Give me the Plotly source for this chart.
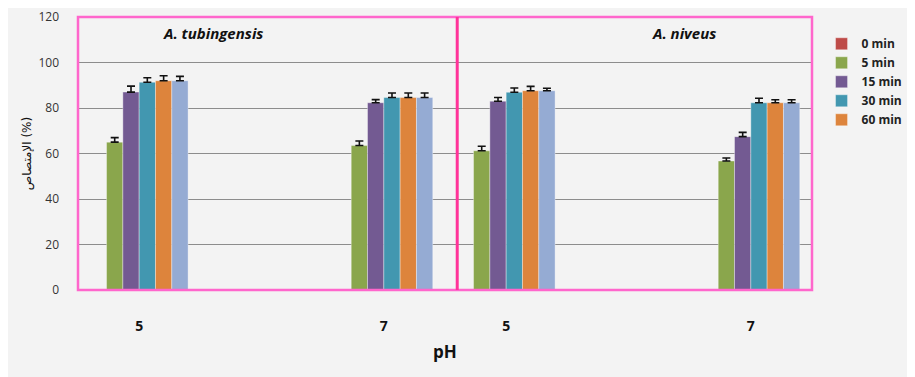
import plotly.graph_objects as go

species = ["A. tubingensis", "A. tubingensis", "A. niveus", "A. niveus"]
ph_values = [5, 7, 5, 7]
series_names = ["0 min", "5 min", "15 min", "30 min", "60 min", "120 min"]
series_colors = ["#BE4B48", "#8AA64C", "#735A92", "#4297B0", "#DD843C", "#95ABD3"]

values = {
    "0 min":   [0, 0, 0, 0],
    "5 min":   [65.0, 63.5, 61.2, 56.7],
    "15 min":  [87.0, 82.3, 83.0, 67.4],
    "30 min":  [91.3, 84.6, 86.9, 82.3],
    "60 min":  [92.0, 84.6, 87.6, 82.3],
    "120 min": [92.0, 84.6, 87.6, 82.3],
}
errors = {
    "0 min":   [0, 0, 0, 0],
    "5 min":   [2.0, 2.0, 2.0, 1.3],
    "15 min":  [2.6, 1.4, 1.6, 1.9],
    "30 min":  [2.0, 2.0, 1.9, 2.0],
    "60 min":  [2.2, 2.0, 1.9, 1.3],
    "120 min": [1.9, 2.0, 1.1, 1.3],
}

species_order = ["A. tubingensis", "A. niveus"]
# slot position: 3 pH slots (5, 6, 7) per species, pH 6 left empty
xpos = [species_order.index(s) * 3 + (p - 5) for s, p in zip(species, ph_values)]
xtext = [str(p) for p in ph_values]

fig = go.Figure()
for name, color in zip(series_names, series_colors):
    fig.add_trace(go.Bar(
        x=xpos, y=values[name], name=name,
        marker=dict(color=color, line=dict(color="rgba(255,255,255,0.6)", width=0.6)),
        error_y=dict(type="data", array=errors[name], arrayminus=[0] * 4,
                     color="#111111", thickness=1.6, width=4,
                     visible=name != "0 min"),
        showlegend=name != "120 min",
    ))

pink = "#FF66CC"
fig.update_layout(
    width=907, height=369,
    paper_bgcolor="#F3F3F3", plot_bgcolor="#F3F3F3",
    margin=dict(l=70, r=103, t=9, b=87, autoexpand=False),
    barmode="group", bargap=0.2, bargroupgap=0,
    font=dict(family="Open Sans, DejaVu Sans, sans-serif", color="#222222"),
    xaxis=dict(range=[-0.5, 5.5], tickvals=xpos, ticktext=xtext, automargin=False,
               showgrid=False, zeroline=False, showline=False, ticks="",
               ticklabelstandoff=26,
               tickfont=dict(size=14, color="#111111", family="Open Sans, DejaVu Sans, sans-serif", weight="bold"),
               title=dict(text="<b>pH</b>", font=dict(size=17, color="#111111"), standoff=12)),
    yaxis=dict(range=[0, 120], dtick=20, showgrid=True, gridcolor="#8C8C8C", gridwidth=1,
               automargin=False, ticklabeloverflow="allow",
               zeroline=False, showline=False, ticks="", ticklabelstandoff=18,
               tickfont=dict(size=12, color="#333333"),
               title=dict(text="الإمتصاص (%)", font=dict(size=12, color="#111111",
                          family="DejaVu Sans, Noto Sans, sans-serif"), standoff=4)),
    legend=dict(x=1.013, y=0.955, xanchor="left", yanchor="top",
                font=dict(size=12, color="#222222", weight="bold"),
                bgcolor="rgba(0,0,0,0)", tracegroupgap=0, itemwidth=30),
    shapes=[
        dict(type="rect", xref="paper", yref="paper", x0=0, x1=1, y0=0, y1=1,
             line=dict(color=pink, width=2.5), layer="above"),
        dict(type="line", xref="x", yref="paper", x0=2.6, x1=2.6, y0=0, y1=1,
             line=dict(color="#FF3399", width=3), layer="above"),
    ],
    annotations=[
        dict(x=0.6, y=113, xref="x", yref="y", text="<b><i>A. tubingensis</i></b>",
             showarrow=False, font=dict(size=15, color="#111111")),
        dict(x=4.45, y=113, xref="x", yref="y", text="<b><i>A. niveus</i></b>",
             showarrow=False, font=dict(size=15, color="#111111")),
    ],
)

fig.write_html("out.html")
